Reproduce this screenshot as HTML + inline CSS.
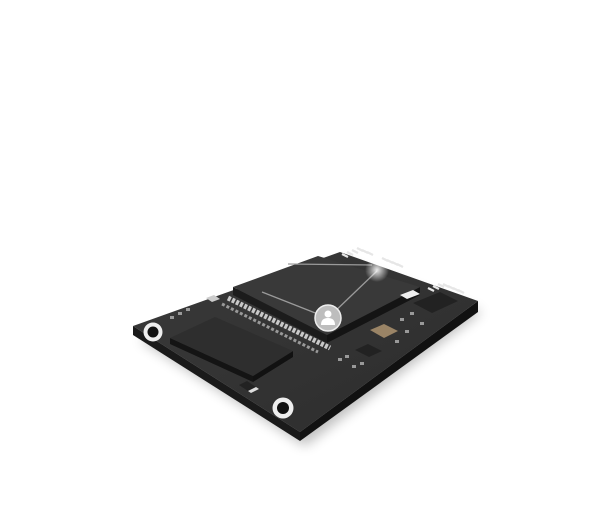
<!DOCTYPE html>
<html><head><style>html,body{margin:0;padding:0;background:#fff;width:600px;height:520px;overflow:hidden}</style></head>
<body>
<svg width="600" height="520" viewBox="0 0 600 520" xmlns="http://www.w3.org/2000/svg">
<defs>
<filter id="sh" x="-20%" y="-20%" width="140%" height="160%"><feGaussianBlur stdDeviation="6"/></filter>
<linearGradient id="top" x1="0" y1="0" x2="1" y2="1"><stop offset="0" stop-color="#3a3a3a"/><stop offset="1" stop-color="#2c2c2c"/></linearGradient>
<radialGradient id="glow"><stop offset="0" stop-color="#fff" stop-opacity="1"/><stop offset="1" stop-color="#fff" stop-opacity="0"/></radialGradient>
</defs>
<polygon points="140,340 340,262 482,312 305,446" fill="#000" opacity="0.25" filter="url(#sh)"/>
<polygon points="133,326 300,432 300,441 133,335" fill="#1a1a1a"/>
<polygon points="300,432 478,301 478,312 300,441" fill="#111"/>
<polygon points="133,326 340,252 478,301 300,432" fill="url(#top)"/>
<!-- connector pins -->
<g stroke="#e6e6e6" stroke-width="2.2">
<line x1="342" y1="254" x2="348" y2="257"/><line x1="347" y1="252" x2="353" y2="255"/><line x1="352" y1="250" x2="358" y2="253"/><line x1="357" y1="248" x2="363" y2="251"/><line x1="362" y1="250" x2="368" y2="253"/><line x1="367" y1="252" x2="373" y2="255"/><line x1="382" y1="258" x2="388" y2="261"/><line x1="387" y1="260" x2="393" y2="263"/><line x1="392" y1="262" x2="398" y2="265"/><line x1="397" y1="264" x2="403" y2="267"/>
<line x1="428" y1="288" x2="434" y2="291"/><line x1="433" y1="286" x2="439" y2="289"/><line x1="438" y1="284" x2="444" y2="287"/><line x1="443" y1="284" x2="449" y2="287"/><line x1="448" y1="286" x2="454" y2="289"/><line x1="453" y1="288" x2="459" y2="291"/><line x1="458" y1="290" x2="464" y2="293"/>
</g>
<!-- pad row -->
<line x1="228" y1="298" x2="330" y2="348" stroke="#c8c8c8" stroke-width="5" stroke-dasharray="3 1.5"/>
<line x1="222" y1="304" x2="318" y2="352" stroke="#999" stroke-width="3" stroke-dasharray="3 2"/>
<!-- module -->
<polygon points="233,287 233,295 327,343 327,335" fill="#1c1c1c"/>
<polygon points="327,335 420,287 420,295 327,343" fill="#141414"/>
<polygon points="233,287 318,256 420,287 327,335" fill="#393939"/>
<g stroke="#9a9a9a" stroke-width="1.3" fill="none">
<line x1="328" y1="318" x2="262" y2="292"/>
<line x1="328" y1="318" x2="377" y2="271"/>
<line x1="288" y1="264" x2="372" y2="265"/>
</g>
<circle cx="377" cy="270" r="12" fill="url(#glow)" opacity="0.9"/>
<circle cx="328" cy="318" r="13" fill="#bdbdbd" stroke="#eee" stroke-width="1.5"/>
<circle cx="328" cy="314" r="3.5" fill="#fff"/>
<path d="M321,325 q0,-7 7,-7 q7,0 7,7 z" fill="#fff"/>
<!-- left chip -->
<polygon points="170,338 170,344 253,382 253,376" fill="#141414"/>
<polygon points="253,376 293,351 293,357 253,382" fill="#111"/>
<polygon points="170,338 215,317 293,351 253,376" fill="#2e2e2e"/>
<!-- right components -->
<polygon points="413,303 440,292 458,301 432,313" fill="#222"/>
<polygon points="370,330 384,324 398,331 384,338" fill="#9a8466"/>
<polygon points="355,350 368,344 382,351 369,357" fill="#222"/>
<polygon points="400,295 413,290 420,294 407,299" fill="#eee"/>
<g fill="#999">
<rect x="400" y="318" width="4" height="3"/><rect x="410" y="312" width="4" height="3"/><rect x="395" y="340" width="4" height="3"/><rect x="345" y="355" width="4" height="3"/><rect x="360" y="362" width="4" height="3"/><rect x="420" y="322" width="4" height="3"/><rect x="338" y="358" width="4" height="3"/><rect x="352" y="365" width="4" height="3"/><rect x="405" y="330" width="4" height="3"/>
<rect x="170" y="316" width="4" height="3"/><rect x="178" y="312" width="4" height="3"/><rect x="186" y="308" width="4" height="3"/>
</g>
<polygon points="206,298 214,295 220,299 212,302" fill="#ccc"/>
<polygon points="239,385 247,381 256,387 248,391" fill="#222"/>
<polygon points="248,391 256,387 259,389 251,393" fill="#ddd"/>
<circle cx="153" cy="332" r="9.5" fill="#eee"/><circle cx="153" cy="332" r="5.5" fill="#111"/>
<circle cx="283" cy="408" r="10.5" fill="#eee"/><circle cx="283" cy="408" r="6" fill="#111"/>
</svg>
</body></html>
